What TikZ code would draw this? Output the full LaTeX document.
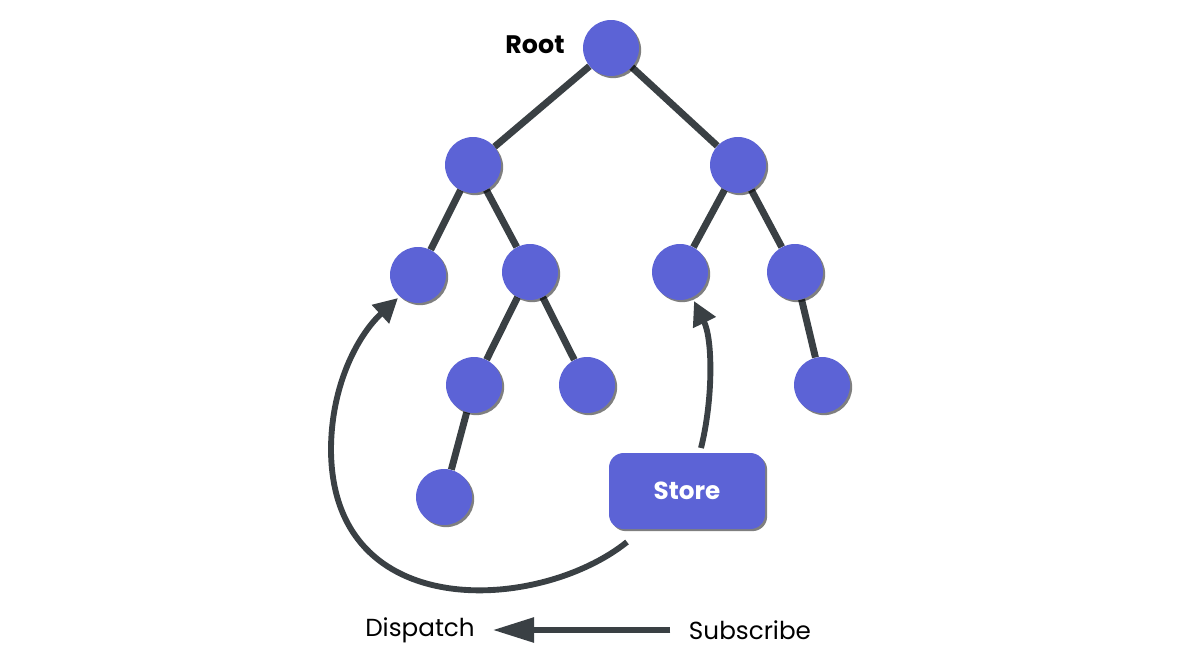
\documentclass[tikz,border=0pt]{standalone}
\usepackage{fontspec}
\setmainfont{Poppins}
\usetikzlibrary{arrows.meta,shadows,backgrounds}

\definecolor{nodeblue}{RGB}{92,99,214}
\definecolor{linegray}{RGB}{58,64,68}

\tikzset{
  treenode/.style={circle,fill=nodeblue,minimum size=42pt,inner sep=0pt,
    drop shadow={shadow xshift=1.6pt,shadow yshift=-1.6pt,opacity=.5,fill=black}},
  treeedge/.style={draw=linegray,line width=5.2pt},
  flowarrow/.style={draw=linegray,line width=4.4pt,
    -{Triangle[length=18pt,width=18pt]}},
  storebox/.style={rectangle,rounded corners=11pt,fill=nodeblue,
    minimum width=117pt,minimum height=57pt,text=white,font=\fontsize{18.5}{22}\selectfont,
    drop shadow={shadow xshift=1.6pt,shadow yshift=-1.6pt,opacity=.5,fill=black}},
  plainlabel/.style={font=\fontsize{18.5}{22}\selectfont,text=black}
}

\begin{document}
\begin{tikzpicture}[x=0.75pt,y=0.75pt,yscale=-1,xscale=1]
\useasboundingbox (0,0) rectangle (1180,664);

% Tree nodes
\node[treenode] (root) at (611,48) {};
\node[treenode] (a) at (473,165) {};
\node[treenode] (b) at (738,165) {};
\node[treenode] (c) at (418,275) {};
\node[treenode] (d) at (530,272) {};
\node[treenode] (e) at (680,272) {};
\node[treenode] (f) at (795,272) {};
\node[treenode] (g) at (474,385) {};
\node[treenode] (h) at (587,385) {};
\node[treenode] (i) at (822,385) {};
\node[treenode] (j) at (444,497) {};

% Store
\node[storebox] (store) at (687,491) {\bfseries Store};

% Text Node
\node[plainlabel,font=\fontsize{19}{22}\selectfont\bfseries] (rootlabel) at (535,45) {Root};
% Text Node
\node[plainlabel] (dispatch) at (420,630) {Dispatch};
% Text Node
\node[plainlabel] (subscribe) at (750,630) {Subscribe};

% Edges
\begin{pgfonlayer}{background}
\draw[treeedge] (root) -- (a);
\draw[treeedge] (root) -- (b);
\draw[treeedge] (a) -- (c);
\draw[treeedge] (a) -- (d);
\draw[treeedge] (d) -- (g);
\draw[treeedge] (d) -- (h);
\draw[treeedge] (g) -- (j);
\draw[treeedge] (b) -- (e);
\draw[treeedge] (b) -- (f);
\draw[treeedge] (f) -- (i);
\end{pgfonlayer}

% Arrows
\coordinate (dispstart) at (627,542);
\coordinate (substart) at (701,448);
\draw[flowarrow] (dispstart) .. controls (540,612) and (332,625) .. (331,450)
  .. controls (331,385) and (358,335) .. (398,298);
\draw[flowarrow] (substart) .. controls (713,400) and (713,340) .. (694,301);
\draw[flowarrow,-{Triangle[length=31pt,width=18pt]},shorten <=10.5pt,shorten >=10pt]
  (subscribe.west) -- (dispatch.east);
\end{tikzpicture}
\end{document}
